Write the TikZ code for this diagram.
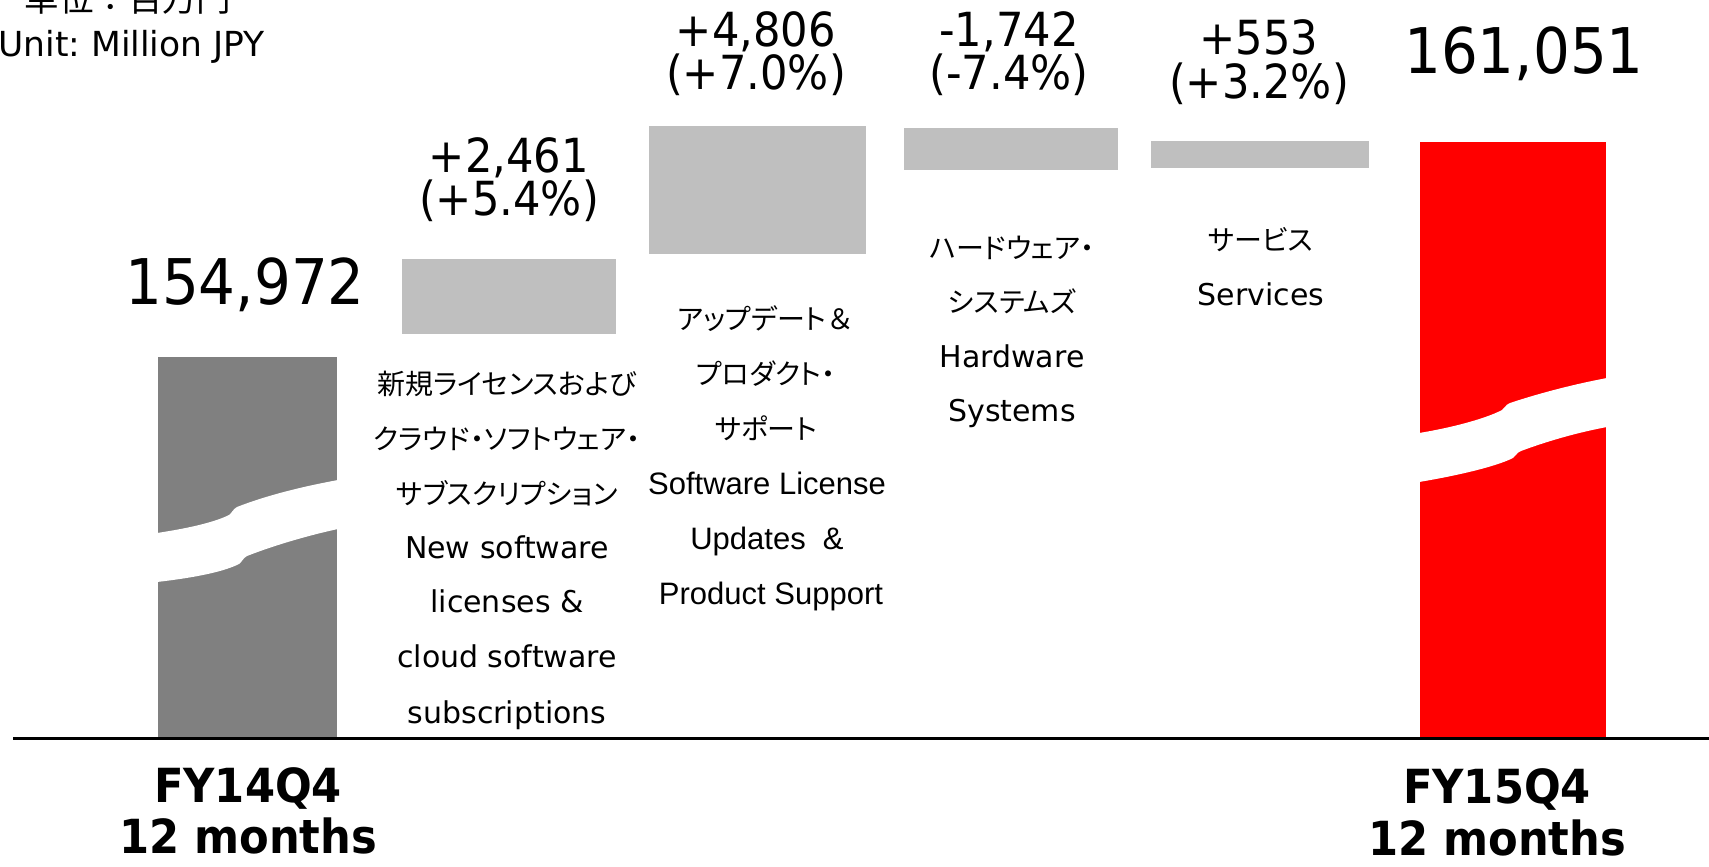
\documentclass[tikz,border=0pt]{standalone}
\usepackage{fontspec}
\setmainfont{DejaVu Sans}
\newfontfamily\numfont[FakeStretch=0.92]{DejaVu Sans}
\newfontfamily\jpfont[RawFeature={+palt}]{Noto Sans CJK JP}
\newfontfamily\jpwide{Noto Sans CJK JP}
\newfontfamily\lsfont{Liberation Sans}
\definecolor{barlight}{HTML}{BFBFBF}
\definecolor{bardark}{HTML}{808080}
\definecolor{barred}{HTML}{FF0000}
\frenchspacing
\begin{document}
\begin{tikzpicture}[x=1pt,y=-1pt,
  txt/.style={inner sep=0pt, anchor=base},
  delta/.style={txt, font=\numfont\fontsize{47}{47}\selectfont},
  total/.style={txt, font=\numfont\fontsize{63}{63}\selectfont},
  jp/.style={txt, font=\jpfont\fontsize{28}{28}\selectfont},
  en/.style={txt, font=\fontsize{30}{30}\selectfont},
  ensupport/.style={txt, font=\lsfont\fontsize{31}{31}\selectfont},
  fy/.style={txt, font=\numfont\bfseries\fontsize{47}{47}\selectfont},
  breakband/.style={fill=white},
]
\useasboundingbox (0,0) rectangle (1709,867);

% bars
\fill[bardark] (158,357) rectangle (337,738);
\fill[barred] (1420,142) rectangle (1606,738);
\fill[barlight] (402,259) rectangle (616,334);
\fill[barlight] (649,126) rectangle (866,254);
\fill[barlight] (904,128) rectangle (1118,170);
\fill[barlight] (1151,141) rectangle (1369,168);

% break bands
\fill[breakband] (157,533) .. controls (190,528) and (215,522) .. (229,515)
  .. controls (232,513) and (233,509) .. (237,507)
  .. controls (265,496) and (300,487) .. (338,480) -- (338,529)
  .. controls (310,535) and (275,545) .. (247,556)
  .. controls (243,558) and (242,562) .. (239,564)
  .. controls (225,571) and (200,577) .. (157,582) -- cycle;
\fill[breakband] (1419,433) .. controls (1450,428) and (1485,419) .. (1502,410)
  .. controls (1505,408) and (1505,405) .. (1510,403)
  .. controls (1540,393) and (1575,384) .. (1607,378) -- (1607,427)
  .. controls (1575,433) and (1545,442) .. (1521,451)
  .. controls (1516,453) and (1516,456) .. (1513,458)
  .. controls (1495,467) and (1455,476) .. (1419,482) -- cycle;

% axis
\draw[line width=2.5pt] (13,738.5) -- (1709,738.5);

% unit
\node[txt, font=\jpwide\fontsize{34.5}{34.5}\selectfont] (unitjp) at (128,12) {単位：百万円};
\node[txt, anchor=base east, font=\fontsize{34.5}{34.5}\selectfont] (unitlabel) at (265,57) {Unit: Million JPY};

% totals
\node[total] (v14) at (245,304) {154,972};
\node[total] (v15) at (1524,74) {161,051};

% deltas
\node[delta] (d1a) at (509,172) {+2,461};
\node[delta] (d1b) at (509,215) {(+5.4\%)};
\node[delta] (d2a) at (756,47) {+4,806};
\node[delta] (d2b) at (756,90) {(+7.0\%)};
\node[delta] (d3a) at (1009,47) {-1,742};
\node[delta] (d3b) at (1009,90) {(-7.4\%)};
\node[delta] (d4a) at (1259,55) {+553};
\node[delta] (d4b) at (1259,99) {(+3.2\%)};

% label 1
\node[jp] (l1a) at (507,394) {新規ライセンスおよび};
\node[jp] (l1b) at (507,449) {クラウド・ソフトウェア・};
\node[jp] (l1c) at (507,504) {サブスクリプション};
\node[en] (l1d) at (507,558) {New software};
\node[en] (l1e) at (507,612) {licenses \&};
\node[en] (l1f) at (507,667) {cloud software};
\node[en] (l1g) at (507,723) {subscriptions};

% label 2
\node[jp] (l2a) at (766,329) {アップデート{\jpwide ＆}};
\node[jp] (l2b) at (766,384) {プロダクト・};
\node[jp] (l2c) at (766,439) {サポート};
\node[ensupport] (l2d) at (767,494) {Software License};
\node[ensupport] (l2e) at (767,549) {Updates \ \&};
\node[ensupport] (l2f) at (771,604) {Product Support};

% label 3
\node[jp] (l3a) at (1012,258) {ハードウェア・};
\node[jp] (l3b) at (1012,312.5) {システムズ};
\node[en] (l3c) at (1012,367) {Hardware};
\node[en] (l3d) at (1012,421.5) {Systems};

% label 4
\node[jp] (l4a) at (1261,250) {サービス};
\node[en] (l4b) at (1261,305) {Services};

% period labels
\node[fy] (fy14a) at (248,802) {FY14Q4};
\node[fy] (fy14b) at (248,853) {12 months};
\node[fy] (fy15a) at (1497,803) {FY15Q4};
\node[fy] (fy15b) at (1497,855) {12 months};
\end{tikzpicture}
\end{document}
